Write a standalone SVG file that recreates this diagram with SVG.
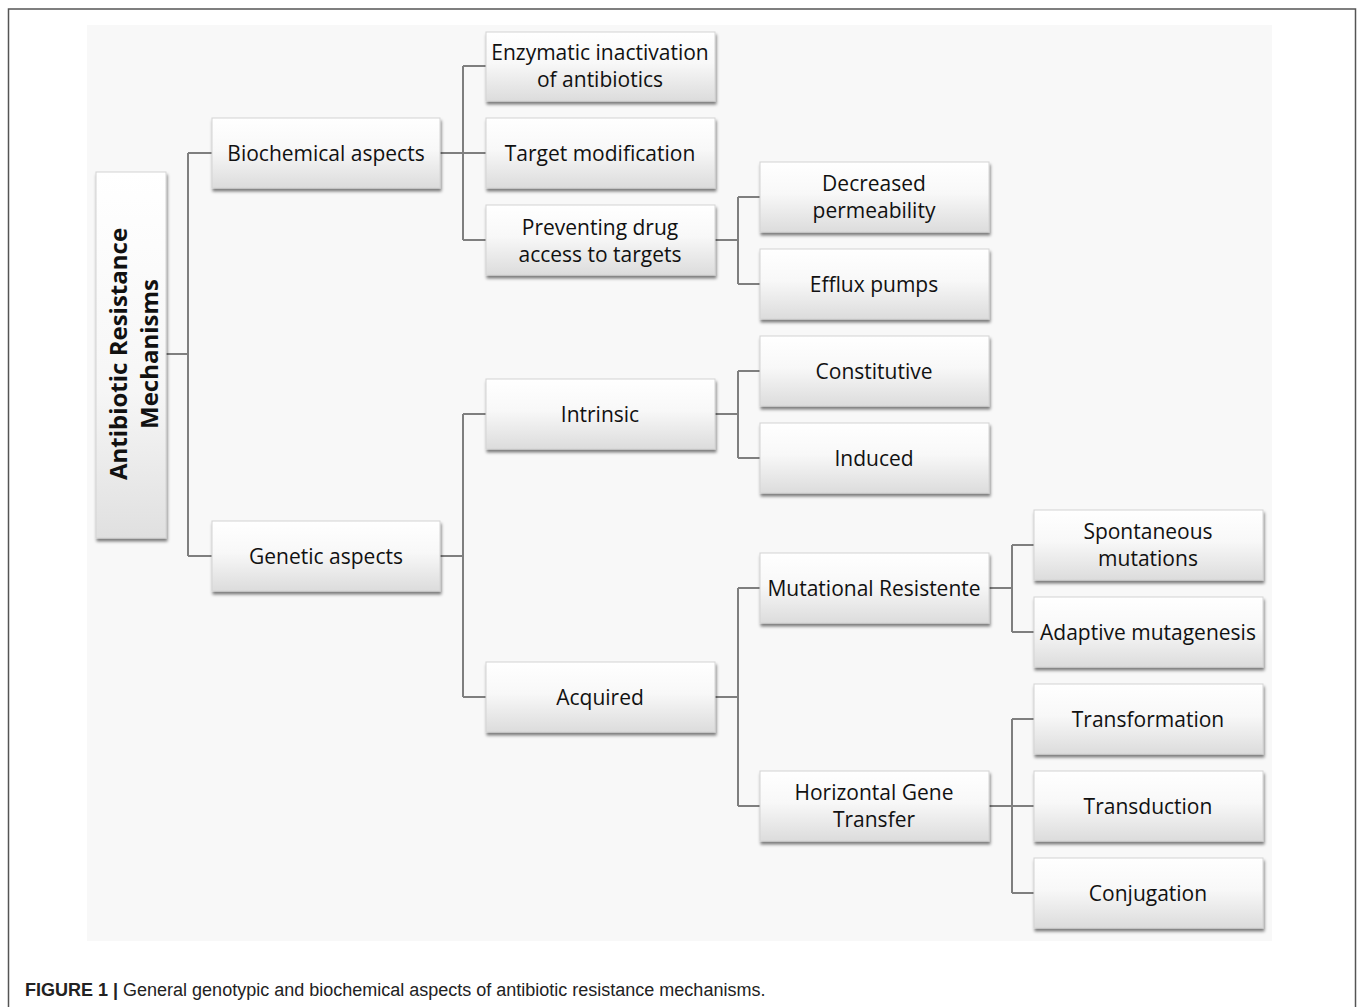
<svg xmlns="http://www.w3.org/2000/svg" width="1358" height="1007" viewBox="0 0 1358 1007">
<defs>
<linearGradient id="g" x1="0" y1="0" x2="0" y2="1">
<stop offset="0" stop-color="#ffffff"/>
<stop offset="0.45" stop-color="#f8f8f8"/>
<stop offset="1" stop-color="#dcdcdc"/>
</linearGradient>
<linearGradient id="gv" x1="0" y1="0" x2="0" y2="1">
<stop offset="0" stop-color="#ffffff"/>
<stop offset="0.6" stop-color="#f6f6f6"/>
<stop offset="1" stop-color="#e0e0e0"/>
</linearGradient>
<filter id="sh" x="-10%" y="-10%" width="130%" height="140%">
<feDropShadow dx="1" dy="3" stdDeviation="1.6" flood-color="#000" flood-opacity="0.5"/>
</filter>
</defs>
<style>
.box{fill:url(#g);stroke:#d4d4d4;stroke-width:1;filter:url(#sh)}
.t{font-family:"Open Sans","Noto Sans",sans-serif;font-size:21px;fill:#111;text-anchor:middle;dominant-baseline:central}
.c{fill:none;stroke:#7f7f7f;stroke-width:2}
.cap{font-family:"Liberation Sans",Arial,sans-serif;font-size:18px;fill:#222}
</style>
<rect x="8.5" y="9" width="1347" height="1010" fill="#fff" stroke="#555" stroke-width="1.5"/>
<rect x="87" y="25" width="1185" height="916" fill="#f8f8f8"/>

<g id="connectors">
<path class="c" d="M166 354H188M188 153V556M188 153H212M188 556H212"/>
<path class="c" d="M440 153H486M463 66V240M463 66H486M463 240H486"/>
<path class="c" d="M715 240H738M738 197V284M738 197H760M738 284H760"/>
<path class="c" d="M440 556H463M463 414V697M463 414H486M463 697H486"/>
<path class="c" d="M715 414H738M738 371V458M738 371H760M738 458H760"/>
<path class="c" d="M715 697H738M738 588V806M738 588H760M738 806H760"/>
<path class="c" d="M989 588H1012M1012 545V632M1012 545H1034M1012 632H1034"/>
<path class="c" d="M989 806H1034M1012 719V893M1012 719H1034M1012 893H1034"/>
</g>

<g id="root">
<rect x="96" y="172" width="70" height="366" fill="url(#gv)" stroke="#d4d4d4" filter="url(#sh)"/>
<text transform="translate(131 354) rotate(-90)" font-family="'Open Sans','Noto Sans',sans-serif" font-size="24" font-weight="bold" fill="#111" text-anchor="middle"><tspan x="0" y="-4">Antibiotic Resistance</tspan><tspan x="0" y="27">Mechanisms</tspan></text>
</g>

<g id="biochemical"><rect class="box" x="212" y="118" width="228" height="70"/><text class="t" x="326" y="153">Biochemical aspects</text></g>
<g id="genetic"><rect class="box" x="212" y="521" width="228" height="70"/><text class="t" x="326" y="556">Genetic aspects</text></g>

<g id="enzymatic"><rect class="box" x="486" y="32" width="229" height="69"/><text class="t" x="600" y="52">Enzymatic inactivation</text><text class="t" x="600" y="79">of antibiotics</text></g>
<g id="target"><rect class="box" x="486" y="118" width="229" height="70"/><text class="t" x="600" y="153">Target modification</text></g>
<g id="preventing"><rect class="box" x="486" y="205" width="229" height="70"/><text class="t" x="600" y="227">Preventing drug</text><text class="t" x="600" y="254">access to targets</text></g>
<g id="intrinsic"><rect class="box" x="486" y="379" width="229" height="70"/><text class="t" x="600" y="414">Intrinsic</text></g>
<g id="acquired"><rect class="box" x="486" y="662" width="229" height="70"/><text class="t" x="600" y="697">Acquired</text></g>

<g id="decreased"><rect class="box" x="760" y="162" width="229" height="70"/><text class="t" x="874" y="183">Decreased</text><text class="t" x="874" y="210">permeability</text></g>
<g id="efflux"><rect class="box" x="760" y="249" width="229" height="70"/><text class="t" x="874" y="284">Efflux pumps</text></g>
<g id="constitutive"><rect class="box" x="760" y="336" width="229" height="70"/><text class="t" x="874" y="371">Constitutive</text></g>
<g id="induced"><rect class="box" x="760" y="423" width="229" height="70"/><text class="t" x="874" y="458">Induced</text></g>
<g id="mutational"><rect class="box" x="760" y="553" width="229" height="70"/><text class="t" x="874" y="588">Mutational Resistente</text></g>
<g id="hgt"><rect class="box" x="760" y="771" width="229" height="70"/><text class="t" x="874" y="792">Horizontal Gene</text><text class="t" x="874" y="819">Transfer</text></g>

<g id="spontaneous"><rect class="box" x="1034" y="510" width="229" height="70"/><text class="t" x="1148" y="531">Spontaneous</text><text class="t" x="1148" y="558">mutations</text></g>
<g id="adaptive"><rect class="box" x="1034" y="597" width="229" height="70"/><text class="t" x="1148" y="632">Adaptive mutagenesis</text></g>
<g id="transformation"><rect class="box" x="1034" y="684" width="229" height="70"/><text class="t" x="1148" y="719">Transformation</text></g>
<g id="transduction"><rect class="box" x="1034" y="771" width="229" height="70"/><text class="t" x="1148" y="806">Transduction</text></g>
<g id="conjugation"><rect class="box" x="1034" y="858" width="229" height="70"/><text class="t" x="1148" y="893">Conjugation</text></g>

<text class="cap" x="25" y="996"><tspan font-weight="bold">FIGURE 1 |</tspan> General genotypic and biochemical aspects of antibiotic resistance mechanisms.</text>
</svg>
